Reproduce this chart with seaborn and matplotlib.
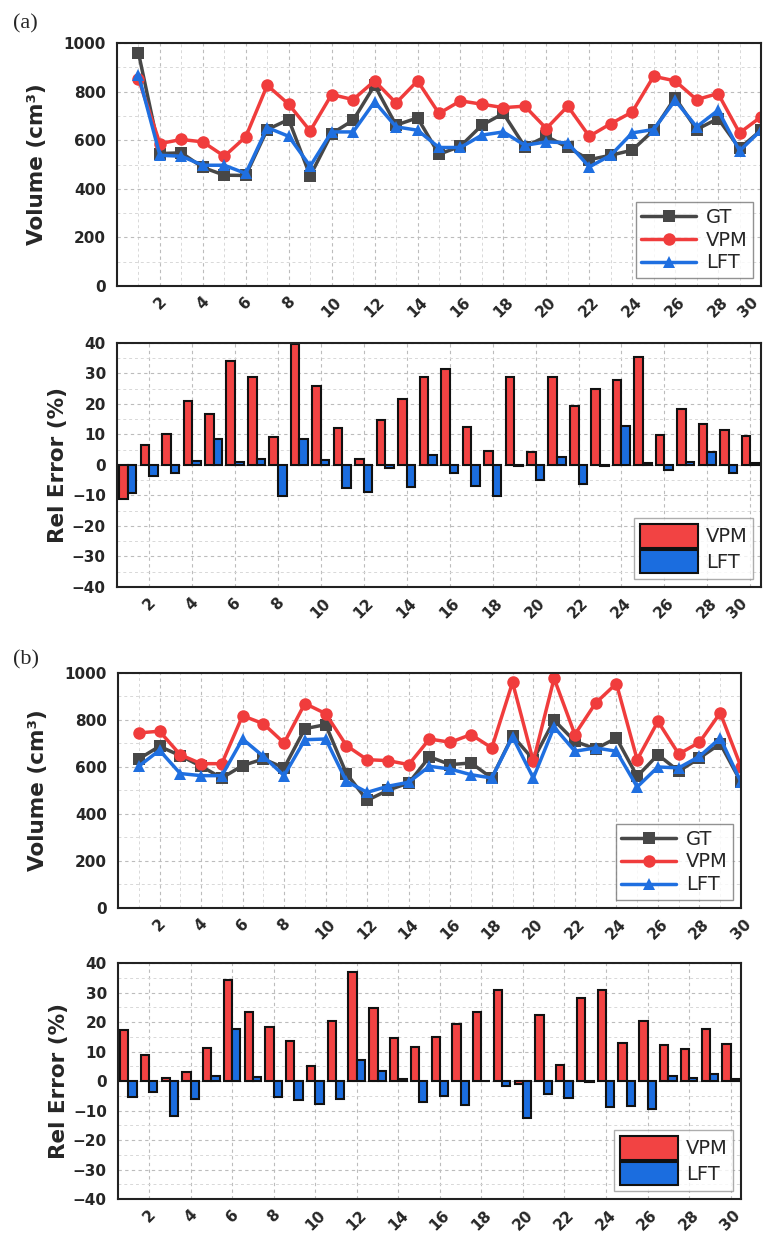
import pandas as pd
import matplotlib
matplotlib.use("Agg")
import matplotlib.pyplot as plt
from matplotlib.ticker import MultipleLocator
import seaborn as sns

sns.set_theme(style="white")
plt.rcParams['font.family'] = ['DejaVu Sans']

samples = list(range(1, 31))
methods = ['GT', 'VPM', 'LFT']

# panel (a) volumes (cm^3)
gt_a = [960, 545, 548, 488, 456, 455, 644, 685, 453, 627, 682, 826, 662, 692, 542,
        575, 662, 710, 573, 616, 570, 520, 538, 559, 641, 775, 644, 689, 566, 641]
vpm_a = [853, 586, 603, 593, 534, 614, 826, 748, 638, 788, 767, 844, 753, 844, 710,
         762, 748, 734, 740, 648, 740, 616, 668, 716, 863, 844, 767, 792, 630, 696]
lft_a = [870, 538, 534, 497, 497, 463, 652, 616, 493, 634, 634, 758, 655, 641, 570,
         570, 621, 634, 579, 593, 589, 490, 538, 630, 644, 764, 655, 723, 556, 641]

# panel (a) relative errors (%)
vpm_err_a = [-11.2, 6.4, 10.0, 21.0, 16.7, 34.2, 28.8, 9.3, 39.8, 25.8, 12.1, 1.8, 14.6, 21.7, 29.0,
             31.5, 12.6, 4.6, 29.0, 4.2, 29.0, 19.3, 25.0, 27.9, 35.3, 9.8, 18.4, 13.3, 11.5, 9.6]
lft_err_a = [-9.3, -3.5, -2.7, 1.3, 8.5, 0.9, 1.9, -10.2, 8.5, 1.6, -7.7, -8.9, -0.9, -7.3, 3.2,
             -2.7, -7.0, -10.2, -0.2, -4.9, 2.5, -6.2, -0.2, 12.7, 0.5, -1.6, 1.1, 4.1, -2.5, 0.5]

# panel (b) volumes (cm^3)
gt_b = [634, 688, 648, 603, 553, 606, 634, 596, 763, 780, 572, 458, 501, 532, 643,
        610, 617, 553, 733, 631, 799, 709, 677, 723, 560, 652, 582, 638, 699, 535]
vpm_b = [745, 752, 652, 614, 614, 818, 784, 702, 870, 827, 691, 631, 627, 610, 719,
         705, 738, 681, 960, 624, 977, 738, 872, 955, 631, 794, 655, 705, 830, 600]
lft_b = [603, 671, 572, 563, 563, 719, 645, 563, 716, 719, 539, 492, 518, 535, 603,
         591, 567, 553, 728, 553, 770, 667, 681, 667, 515, 600, 596, 645, 723, 535]

# panel (b) relative errors (%)
vpm_err_b = [17.2, 9.0, 1.1, 3.0, 11.3, 34.4, 23.3, 18.4, 13.6, 5.2, 20.5, 37.0, 24.7, 14.5, 11.6,
             14.8, 19.2, 23.3, 30.8, -1.1, 22.3, 5.6, 28.1, 30.8, 13.0, 20.5, 12.3, 10.8, 17.6, 12.6]
lft_err_b = [-5.3, -3.7, -11.8, -6.0, 1.8, 17.7, 1.4, -5.3, -6.5, -7.9, -6.1, 7.1, 3.5, 0.7, -7.0,
             -5.0, -8.2, 0.1, -1.7, -12.6, -4.4, -5.7, -0.2, -8.9, -8.6, -9.5, 1.7, 1.2, 2.4, 0.6]

line_colors = {'GT': '#474747', 'VPM': '#f03c3c', 'LFT': '#1f6fe0'}
bar_colors = {'VPM': '#f24343', 'LFT': '#1b6ddf'}
line_markers = {'GT': 's', 'VPM': 'o', 'LFT': '^'}

TICK_FS = 11
LABEL_FS = 15.5


def common_style(ax):
    for sp in ax.spines.values():
        sp.set_linewidth(1.5)
        sp.set_color('#222222')
    ax.tick_params(axis='both', which='both', direction='in', width=1.3, color='#222222')
    ax.tick_params(axis='y', which='major', length=6, pad=8, labelsize=TICK_FS)
    ax.tick_params(axis='y', which='minor', length=3.5)
    ax.tick_params(axis='x', which='both', pad=6, labelsize=TICK_FS)
    ax.grid(True, which='major', color='#bcbcbc', linestyle=(0, (3, 3)), linewidth=0.8)
    ax.grid(True, which='minor', color='#d8d8d8', linestyle=(0, (3, 3)), linewidth=0.7)
    ax.set_axisbelow(True)
    for lab in ax.get_yticklabels():
        lab.set_fontweight('bold')
    ax.set_xlabel('')


def set_xlabels(ax, pull_last=False):
    ax.set_xticks(range(2, 31, 2))
    labels = ax.set_xticklabels([str(v) for v in range(2, 31, 2)], rotation=45, ha='center',
                                fontweight='bold', fontsize=TICK_FS)
    if pull_last:
        # keep the last label inside the figure edge
        labels[-1].set_horizontalalignment('right')


def line_panel(ax, gt, vpm, lft, label_x, pull_last=False):
    df = pd.DataFrame({
        'Sample': samples * 3,
        'Volume': gt + vpm + lft,
        'Method': ['GT'] * 30 + ['VPM'] * 30 + ['LFT'] * 30,
    })
    sns.lineplot(data=df, x='Sample', y='Volume', hue='Method', style='Method',
                 hue_order=methods, style_order=methods, markers=line_markers,
                 dashes=False, palette=line_colors, linewidth=2.5, markersize=9,
                 markeredgewidth=0, ax=ax)
    ax.set_xlim(0, 30)
    ax.set_ylim(0, 1000)
    ax.yaxis.set_major_locator(MultipleLocator(200))
    ax.yaxis.set_minor_locator(MultipleLocator(100))
    ax.xaxis.set_minor_locator(MultipleLocator(1))
    set_xlabels(ax, pull_last)
    common_style(ax)
    ax.tick_params(axis='x', which='both', length=4)
    ax.set_ylabel('Volume (cm³)', fontsize=LABEL_FS, fontweight='bold')
    ax.yaxis.set_label_coords(label_x, 0.5)
    sns.move_legend(ax, 'lower right', title=None, frameon=True, fancybox=False,
                    fontsize=14, handlelength=2.8, labelspacing=0.2, borderpad=0.3,
                    borderaxespad=0.4, handletextpad=0.5)
    leg = ax.get_legend()
    leg.get_frame().set_edgecolor('#777777')
    leg.get_frame().set_linewidth(1.0)


def bar_panel(ax, vpm_err, lft_err, label_x, pull_last=False):
    df = pd.DataFrame({
        'Sample': samples * 2,
        'Error': vpm_err + lft_err,
        'Method': ['VPM'] * 30 + ['LFT'] * 30,
    })
    sns.barplot(data=df, x='Sample', y='Error', hue='Method', hue_order=['VPM', 'LFT'],
                palette=bar_colors, native_scale=True, saturation=1, errorbar=None,
                edgecolor='#111111', linewidth=1.5, width=0.8, ax=ax)
    ax.set_xlim(0.5, 30.5)
    ax.set_ylim(-40, 40)
    ax.yaxis.set_major_locator(MultipleLocator(10))
    ax.yaxis.set_minor_locator(MultipleLocator(5))
    set_xlabels(ax, pull_last)
    common_style(ax)
    ax.tick_params(axis='x', which='major', length=8)
    ax.set_ylabel('Rel Error (%)', fontsize=LABEL_FS, fontweight='bold')
    ax.yaxis.set_label_coords(label_x, 0.5)
    sns.move_legend(ax, 'lower right', title=None, frameon=True, fancybox=False,
                    fontsize=14, handlelength=3.0, handleheight=1.5, labelspacing=0.1,
                    borderpad=0.3, borderaxespad=0.4, handletextpad=0.4)
    leg = ax.get_legend()
    leg.get_frame().set_edgecolor('#999999')
    leg.get_frame().set_linewidth(1.0)


fig = plt.figure(figsize=(7.69, 12.35), dpi=100)
ax1 = fig.add_axes([0.1521, 0.7684, 0.8375, 0.1968])
ax2 = fig.add_axes([0.1521, 0.5247, 0.8375, 0.1976])
ax3 = fig.add_axes([0.1534, 0.2648, 0.8102, 0.1903])
ax4 = fig.add_axes([0.1534, 0.0291, 0.8102, 0.1911])

line_panel(ax1, gt_a, vpm_a, lft_a, -0.109, pull_last=True)
bar_panel(ax2, vpm_err_a, lft_err_a, -0.076, pull_last=True)
line_panel(ax3, gt_b, vpm_b, lft_b, -0.113)
bar_panel(ax4, vpm_err_b, lft_err_b, -0.079)

fig.text(0.017, 0.9806, '(a)', family='Liberation Serif', fontsize=16, ha='left', va='center')
fig.text(0.017, 0.4656, '(b)', family='Liberation Serif', fontsize=16, ha='left', va='center')

fig.savefig('out.png', dpi=100)
